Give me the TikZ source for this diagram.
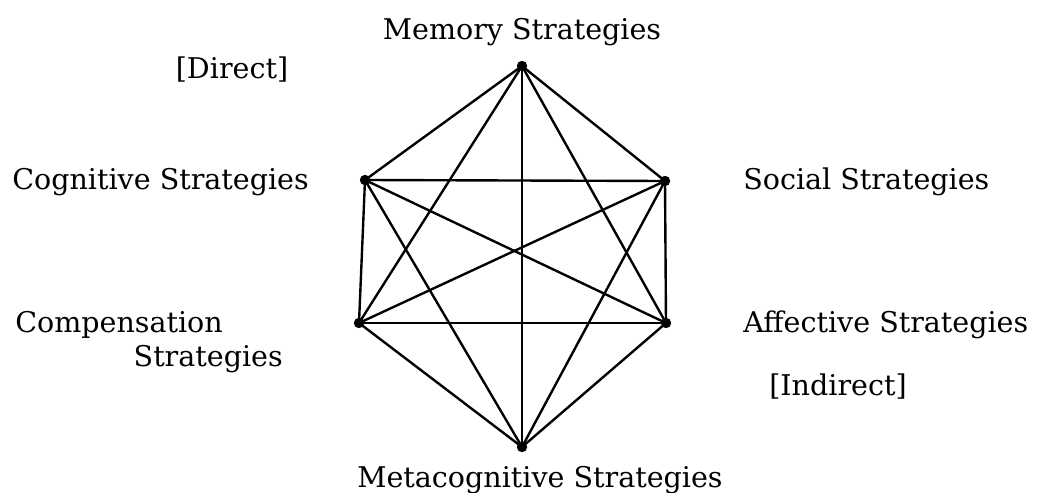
\documentclass[tikz,border=0pt]{standalone}
\usepackage{fontspec}
\setmainfont{DejaVu Serif}
\usepackage{tikz}
\usetikzlibrary{positioning}

\tikzset{
  strat/.style={font=\fontsize{20.3}{24}\selectfont, inner sep=0pt},
  vert/.style={circle, fill=black, inner sep=0pt, minimum size=2.6mm},
  link/.style={line width=1.7pt}
}

\begin{document}
\begin{tikzpicture}[x=0.025cm, y=-0.025cm]
  \useasboundingbox (0,0) rectangle (1040,493);

  % vertices of the hexagon
  \node[vert] (mem)  at (522,66)  {};
  \node[vert] (cog)  at (365,180) {};
  \node[vert] (soc)  at (665,181) {};
  \node[vert] (com)  at (359,323) {};
  \node[vert] (aff)  at (666,323) {};
  \node[vert] (meta) at (522,447) {};

  % every vertex joined to every other
  \foreach \a/\b in {mem/cog, mem/soc, mem/com, mem/aff, mem/meta,
                     cog/soc, cog/com, cog/aff, cog/meta,
                     soc/com, soc/aff, soc/meta,
                     com/aff, com/meta, aff/meta}
    \draw[link] (\a.center) -- (\b.center);

  % labels
  \node[strat, anchor=base] (memT) at (522,39) {Memory Strategies};
  \node[strat, anchor=base] (dirT) at (232,78) {[Direct]};
  \node[strat, anchor=base west] (cogT) at (12,189) {Cognitive Strategies};
  \node[strat, anchor=base west] (socT) at (743,189) {Social Strategies};
  \node[strat, anchor=base west] (comT) at (15,332) {Compensation};
  \node[strat, anchor=base east] (comT2) at (283,366) {Strategies};
  \node[strat, anchor=base west] (affT) at (743,332) {Affective Strategies};
  \node[strat, anchor=base] (indT) at (838,395) {[Indirect]};
  \node[strat, anchor=base] (metaT) at (540,487) {Metacognitive Strategies};
\end{tikzpicture}
\end{document}
